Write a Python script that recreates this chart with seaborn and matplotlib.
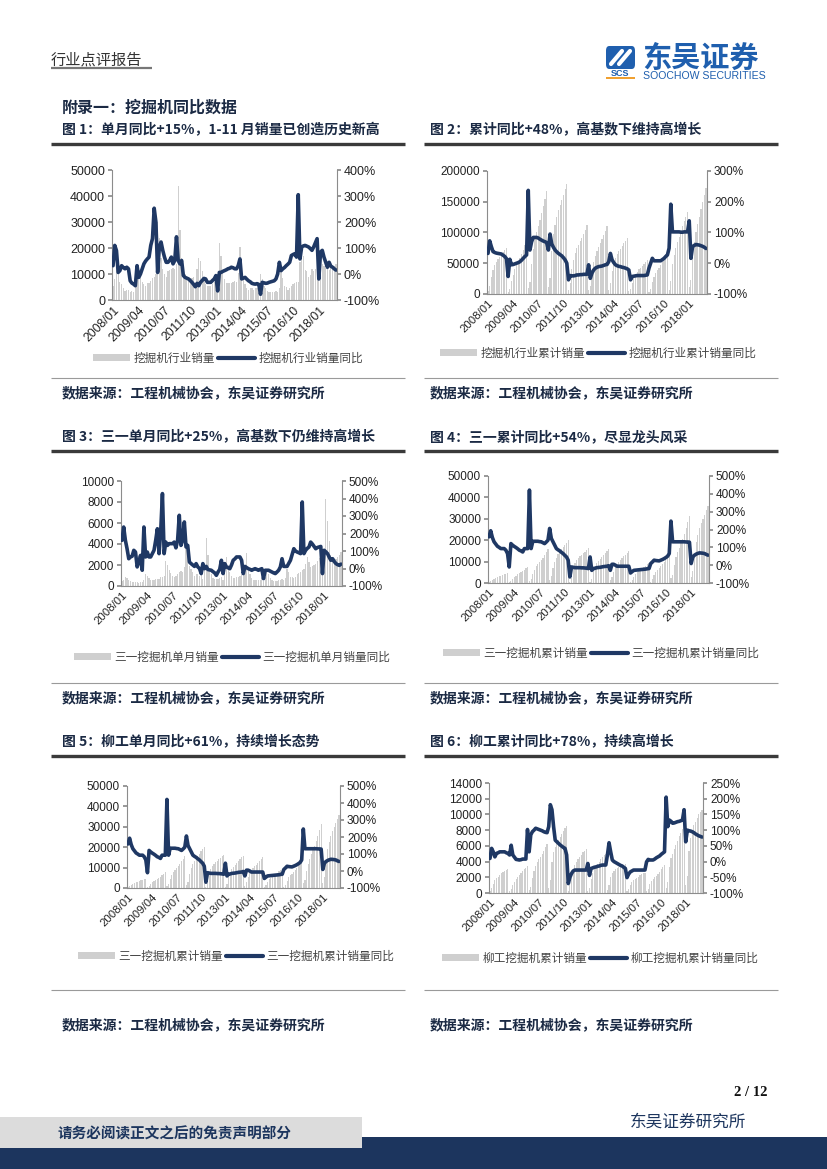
import numpy as np
import pandas as pd
import seaborn as sns
import matplotlib.pyplot as plt
from matplotlib.patches import Rectangle, Patch, FancyBboxPatch
from matplotlib.lines import Line2D

W, H = 827, 1169
NAVY = "#1f3864"
BAR = "#cfcfcf"
CJK = ["Noto Sans CJK SC", "DejaVu Sans"]

# monthly axis 2008/01 - 2018/11 (131 months), labelled every 15 months
tick_pos = [0, 15, 30, 45, 60, 75, 90, 105, 120]
tick_labels = ["2008/01", "2009/04", "2010/07", "2011/10", "2013/01",
               "2014/04", "2015/07", "2016/10", "2018/01"]

# ---- Fig 1: industry monthly sales (thousand units) and yoy (%) ----
ind_month_k = [
    5.5, 8, 14, 12, 7, 6, 4.5, 3.5, 4, 3.8, 3, 3.5,
    3, 5.5, 12, 11, 8.5, 7, 6, 5.5, 6.5, 6.5, 7.5, 8.5,
    9, 10, 30, 24, 16, 12, 10, 9, 11, 11.5, 12, 12.5,
    12, 14, 44, 27, 16, 13, 10, 8, 9, 8.5, 8.5, 9,
    6, 12, 16, 15, 11, 8, 6, 5.5, 5.5, 5.5, 6, 7,
    6, 6.5, 22, 17, 10.5, 8, 6.5, 6.5, 6.5, 6.5, 7, 7.5,
    7, 10.5, 20.5, 13, 8, 6, 4.5, 4, 4.5, 4.5, 4, 4.5,
    4.5, 4, 10, 8, 5.5, 4.5, 3.5, 3, 3, 3, 3, 3.5,
    3, 4.5, 12, 8.5, 5.5, 5, 4, 4.5, 5.5, 6, 6.5, 7,
    7, 14.5, 20, 17, 11.5, 11, 9, 9.5, 12, 11, 12, 13,
    11, 11.5, 14, 13, 12.5, 12, 11.5, 12.5, 13.5, 13, 14,
]
ind_month_yoy = [
    32, 110, 90, 6, 13, 32, 25, 20, 26, 20, -26, -35,
    -39, -45, 32, -13, 0, 20, 39, 50, 58, 65, 110, 136,
    253, 200, 6, 104, 123, 91, 65, 45, 45, 52, 65, 39,
    52, 143, 52, 39, 52, -6, -13, -16, -19, -25, -32, -40,
    -49, -36, -45, -32, -25, -17, -19, -32, -32, -32, -25, -19,
    -6, -65, 6, 6, 10, 13, 16, 20, 22, 26, 24, 20,
    20, 32, 58, -19, -16, -13, -20, -26, -30, -36, -38, -39,
    -37, -40, -78, -32, -34, -36, -35, -32, -30, -28, -26, -19,
    0, 45, 13, 20, 25, 32, 38, 45, 71, 75, 78, 65,
    305, 58, 104, 108, 110, 107, 104, 98, 91, 104, 120, 136,
    -19, 84, 91, 65, 45, 26, 45, 30, 26, 20, 15,
]

# ---- Fig 2: industry cumulative sales (thousand units) and yoy (%) ----
ind_cum_k = [
    5.5, 13.5, 27.5, 39.5, 46.5, 52.5, 57, 60.5, 64.5, 68.3, 71.3, 74.8,
    3, 8.5, 20.5, 31.5, 40, 47, 53, 58.5, 65, 71.5, 79, 87.5,
    9, 19, 49, 73, 89, 101, 111, 120, 131, 142.5, 154.5, 167,
    12, 26, 70, 97, 113, 126, 136, 144, 153, 161.5, 170, 179,
    6, 18, 40, 55, 66, 74, 80, 85.5, 91, 97, 104, 113,
    6, 12.5, 34.5, 51.5, 62, 70, 76.5, 83, 89.5, 96, 103, 110.5,
    7, 17.5, 38, 51, 59, 65, 69.5, 73.5, 78, 82.5, 86.5, 91,
    4.5, 8.5, 18.5, 26.5, 32, 36.5, 40, 43, 46, 49, 52, 55.5,
    3, 7.5, 19.5, 28, 33.5, 38.5, 42.5, 47, 52.5, 58.5, 65, 71,
    7, 21, 48, 64, 75, 85, 93, 101, 110, 118, 126, 134,
    11, 22.5, 63, 84, 100, 114, 126, 138, 150, 161, 173,
]
ind_cum_yoy = [
    32, 73, 54, 38, 35, 33, 32, 31, 30, 26, 22, 15,
    -43, 13, -5, -4, -2, 0, 2, 5, 10, 16, 22, 27,
    237, 43, 70, 84, 84, 84, 82, 78, 75, 72, 70, 67,
    43, 95, 63, 52, 43, 37, 32, 28, 24, 18, 11, 0,
    -54, -40, -41, -41, -40, -38, -38, -37, -37, -36, -36, -36,
    -5, -49, -32, -22, -16, -13, -11, -10, -9, -7, -5, -4,
    5, 32, 11, 2, -5, -8, -10, -11, -13, -14, -16, -18,
    -22, -54, -43, -42, -41, -40, -40, -40, -40, -40, -39, -38,
    -16, 0, 16, 8, 8, 8, 8, 8, 12, 16, 22, 27,
    49, 192, 102, 102, 102, 102, 102, 101, 101, 102, 102, 102,
    138, 16, 54, 58, 61, 60, 59, 57, 55, 52, 48,
]

# ---- Fig 3: Sany monthly sales (thousand units) and yoy (%) ----
sany_month_k = [
    0.5, 0.6, 0.9, 0.8, 0.6, 0.5, 0.4, 0.35, 0.4, 0.35, 0.3, 0.4,
    0.35, 0.6, 1.1, 1.0, 0.8, 0.6, 0.55, 0.6, 0.65, 0.7, 0.7, 0.9,
    0.9, 1.0, 2.4, 2.0, 1.5, 1.2, 1.0, 0.9, 1.0, 1.1, 1.3, 1.4,
    1.3, 1.8, 4.0, 2.8, 1.9, 1.6, 1.3, 1.0, 1.1, 1.1, 1.0, 1.1,
    0.7, 1.6, 4.6, 3.0, 1.5, 1.1, 0.8, 0.7, 0.7, 0.7, 0.8, 0.9,
    0.6, 1.5, 2.8, 2.0, 1.3, 1.0, 0.8, 0.8, 0.9, 0.9, 1.0, 1.1,
    1.2, 1.8, 3.1, 1.7, 1.1, 0.8, 0.6, 0.6, 0.6, 0.6, 0.6, 0.8,
    0.5, 0.8, 1.3, 1.1, 0.8, 0.6, 0.5, 0.45, 0.5, 0.55, 0.6, 0.7,
    0.6, 0.8, 1.6, 1.3, 0.9, 0.9, 0.8, 0.9, 1.1, 1.2, 1.3, 1.5,
    1.6, 2.1, 2.8, 2.3, 1.8, 1.9, 2.0, 2.1, 2.4, 2.7, 2.9, 3.3,
    2.6, 8.3, 6.2, 4.3, 3.0, 2.6, 2.4, 2.6, 2.8, 3.0, 3.2,
]
sany_month_yoy = [
    161, 237, 161, 113, 56, 66, 70, 104, 94, 9, 37, 75,
    -10, 237, 66, 94, 66, 66, 85, 104, 161, 227, 85, 218,
    428, 85, 151, 132, 142, 142, 142, 151, 118, 161, 304, 132,
    161, 266, 123, 132, 37, 28, 20, 12, 28, 9, 0, -29,
    28, -1, 12, -6, -8, -10, -18, -25, -39, -20, -5, 47,
    -29, 28, 9, 4, -1, 20, 47, 55, 66, 66, 66, 47,
    -29, 12, 5, -1, -5, -10, -5, -1, -5, -10, -5, -1,
    -58, -10, -10, -10, -15, -20, -25, -29, -20, -10, 9, 56,
    12, 12, 12, 30, 47, 80, 113, 100, 94, 90, 85, 380,
    85, 104, 115, 123, 151, 140, 126, 113, 120, 123, 126, -29,
    104, 95, 85, 65, 47, 56, 40, 28, 22, 18, 25,
]

# ---- Fig 4 / Fig 5: Sany cumulative sales (thousand units) and yoy (%) ----
sany_cum_k = [
    0.35, 0.75, 1.4, 2.0, 2.45, 2.85, 3.15, 3.45, 3.75, 4.0, 4.25, 4.5,
    0.3, 0.8, 1.8, 2.7, 3.4, 4.0, 4.5, 5.0, 5.6, 6.2, 6.8, 7.6,
    0.9, 1.9, 4.3, 6.3, 7.8, 9.0, 10.0, 10.9, 11.9, 13.0, 14.3, 15.7,
    1.3, 3.1, 7.1, 9.9, 11.8, 13.4, 14.7, 15.7, 16.8, 17.9, 18.9, 20.2,
    0.7, 2.3, 6.9, 9.2, 10.7, 11.8, 12.6, 13.3, 14.0, 14.7, 15.5, 16.4,
    0.6, 2.1, 5.6, 7.8, 9.3, 10.4, 11.3, 12.2, 13.2, 14.2, 15.0, 15.9,
    1.2, 3.0, 5.3, 7.3, 8.7, 9.8, 10.6, 11.5, 12.4, 13.3, 14.1, 15.0,
    0.6, 1.6, 3.0, 4.2, 5.0, 5.7, 6.3, 6.9, 7.5, 8.1, 8.8, 9.5,
    0.7, 1.7, 3.6, 5.2, 6.2, 7.1, 8.0, 8.9, 10.0, 11.2, 12.5, 14.0,
    2.4, 3.9, 8.5, 12.0, 14.3, 16.5, 18.5, 20.5, 23.0, 25.5, 28.5, 31.5,
    2.6, 5.5, 13.3, 19.0, 22.5, 25.5, 28.0, 30.0, 32.0, 34.0, 36.0,
]
sany_cum_yoy = [
    159, 193, 155, 131, 118, 106, 100, 93, 93, 93, 84, 65,
    -10, 121, 112, 105, 99, 92, 84, 80, 74, 93, 93, 93,
    421, 93, 134, 134, 134, 134, 132, 131, 126, 121, 130, 140,
    206, 150, 131, 112, 93, 86, 80, 72, 65, 55, 46, 28,
    -66, -10, -12, -14, -14, -14, -14, -15, -15, -16, -17, -19,
    46, -29, -19, -17, -14, -13, -12, -10, -8, -7, -6, -3,
    -29, 5, 5, 0, -6, -6, -6, -6, -6, -6, -6, -6,
    -44, -36, -29, -28, -27, -26, -25, -24, -23, -22, -20, -19,
    9, 18, 28, 26, 25, 24, 28, 32, 37, 43, 50, 65,
    247, 131, 131, 131, 131, 131, 131, 131, 131, 130, 130, 129,
    9, 46, 56, 62, 66, 69, 68, 67, 65, 60, 56,
]

# ---- Fig 6: Liugong cumulative sales (thousand units) and yoy (%) ----
liugong_cum_k = [
    0.3, 0.7, 1.2, 1.6, 1.9, 2.1, 2.3, 2.5, 2.65, 2.8, 2.95, 3.1,
    0.2, 0.5, 1.0, 1.4, 1.75, 2.0, 2.25, 2.5, 2.75, 3.0, 3.2, 3.5,
    0.4, 0.8, 1.9, 2.8, 3.4, 3.9, 4.3, 4.6, 5.0, 5.4, 5.8, 6.3,
    0.6, 1.6, 3.9, 5.2, 5.9, 6.4, 6.8, 7.1, 7.5, 7.9, 8.3, 8.5,
    0.3, 1.0, 2.2, 3.0, 3.6, 4.0, 4.3, 4.6, 4.9, 5.2, 5.4, 5.6,
    0.3, 0.7, 1.8, 2.5, 3.0, 3.4, 3.7, 4.0, 4.3, 4.6, 4.8, 5.0,
    0.4, 1.0, 2.0, 2.5, 2.8, 3.0, 3.15, 3.3, 3.4, 3.5, 3.6, 3.7,
    0.2, 0.5, 1.0, 1.35, 1.6, 1.8, 1.95, 2.1, 2.25, 2.4, 2.5, 2.6,
    0.2, 0.5, 1.1, 1.5, 1.8, 2.0, 2.2, 2.4, 2.7, 3.0, 3.3, 3.6,
    0.6, 1.4, 3.3, 4.4, 5.0, 5.6, 6.1, 6.6, 7.2, 7.7, 8.2, 8.8,
    1.0, 2.2, 5.3, 7.0, 7.9, 8.6, 9.1, 9.6, 10.0, 10.3, 10.6,
]
liugong_cum_yoy = [
    10, 42, 31, 15, 26, 28, 31, 31, 31, 31, 28, 26,
    21, 52, 21, 14, 7, 6, 5, 6, 8, 8, 8, 102,
    31, 85, 95, 100, 106, 104, 102, 100, 98, 95, 93, 92,
    111, 181, 165, 111, 68, 63, 58, 53, 49, 45, 42, 21,
    -70, -50, -38, -30, -27, -27, -27, -27, -27, -27, -27, -27,
    -6, -44, -22, -20, -18, -17, -15, -14, -12, -11, -11, -11,
    21, 60, 31, 5, 0, -3, -6, -9, -12, -14, -18, -22,
    -51, -40, -33, -30, -27, -27, -27, -27, -27, -27, -27, -27,
    -1, 7, 5, 5, 5, 8, 12, 15, 18, 23, 27, 31,
    205, 111, 132, 128, 122, 123, 125, 127, 128, 130, 132, 165,
    63, 100, 98, 97, 95, 92, 88, 85, 82, 80, 78,
]


def fx(x):
    return x / W


def fy(y):
    return 1 - y / H


def hline(fig, x0, x1, y, lw, color):
    fig.add_artist(Line2D([fx(x0), fx(x1)], [fy(y), fy(y)], transform=fig.transFigure,
                          lw=lw, color=color, solid_capstyle="butt"))


def text(fig, x, y, s, size, **kw):
    kw.setdefault("family", CJK)
    kw.setdefault("va", "center")
    fig.text(fx(x), fy(y), s, fontsize=size, **kw)


def dual_chart(fig, box, bars_k, yoy, lmax, lstep, rmin, rmax, rstep, names, leg_xy, fs=8.5):
    l, t, r, b = box
    ax = fig.add_axes([fx(l), fy(b), (r - l) / W, (b - t) / H])
    df = pd.DataFrame({"m": np.arange(len(bars_k)),
                       "sales": np.array(bars_k) * 1000,
                       "yoy": yoy})
    sns.barplot(data=df, x="m", y="sales", native_scale=True, color=BAR,
                saturation=1, width=0.7, errorbar=None, ax=ax,
                edgecolor="none", linewidth=0)
    ax2 = ax.twinx()
    sns.lineplot(data=df, x="m", y="yoy", color=NAVY, linewidth=2.6, ax=ax2,
                 solid_joinstyle="round")

    ax.set_xlim(-0.6, len(bars_k) - 0.4)
    ax.set_ylim(0, lmax)
    ax.set_yticks(np.arange(0, lmax + 1, lstep))
    ax.set_yticklabels([f"{int(v)}" for v in np.arange(0, lmax + 1, lstep)])
    ax.set_xticks(tick_pos)
    ax.set_xticklabels(tick_labels, rotation=45, ha="right", rotation_mode="anchor")
    ax2.set_ylim(rmin, rmax)
    rt = np.arange(rmin, rmax + 1, rstep)
    ax2.set_yticks(rt)
    ax2.set_yticklabels([f"{v}%" for v in rt])
    for a in (ax, ax2):
        a.set_xlabel("")
        a.set_ylabel("")
        for sp in a.spines.values():
            sp.set_color("#8c8c8c")
            sp.set_linewidth(0.8)
        a.spines["top"].set_visible(False)
    ax.spines["right"].set_visible(False)
    ax2.spines["left"].set_visible(False)
    ax2.spines["bottom"].set_visible(False)
    ax.tick_params(axis="y", length=3, color="#8c8c8c", labelsize=fs, pad=2, labelcolor="#222222")
    ax.tick_params(axis="x", length=0, labelsize=fs - 0.3, pad=3, labelcolor="#222222")
    ax2.tick_params(axis="y", length=3, color="#8c8c8c", labelsize=fs, pad=2, labelcolor="#222222")

    handles = [Patch(facecolor=BAR, edgecolor="none"),
               Line2D([], [], color=NAVY, lw=3)]
    ax2.legend(handles, names, loc="center", ncol=2, frameon=False,
               bbox_to_anchor=(fx(leg_xy[0]), fy(leg_xy[1])), bbox_transform=fig.transFigure,
               handlelength=3.2, handleheight=0.5, handletextpad=0.3, columnspacing=0.2,
               prop={"family": CJK, "size": 8.4}, labelcolor="#444444")
    return ax, ax2


def main():
    sns.set_theme(style="ticks")
    plt.rcParams["font.family"] = ["Liberation Sans", "Noto Sans CJK SC"]

    for arr in (ind_month_k, ind_month_yoy, ind_cum_k, ind_cum_yoy, sany_month_k, sany_month_yoy,
                sany_cum_k, sany_cum_yoy, liugong_cum_k, liugong_cum_yoy):
        assert len(arr) == 131, len(arr)

    fig = plt.figure(figsize=(W / 100, H / 100), dpi=100)
    fig.patch.set_facecolor("white")

    # ---- page header ----
    text(fig, 51, 60, "行业点评报告", 11, color="#333333")
    hline(fig, 51, 152, 68, 1.6, "#777777")

    # logo
    fig.add_artist(FancyBboxPatch((fx(606), fy(69)), fx(635) - fx(606), fy(46) - fy(69),
                                  boxstyle="round,pad=0,rounding_size=0.004",
                                  transform=fig.transFigure, facecolor="#1f5fae", edgecolor="none"))
    fig.add_artist(Line2D([fx(611), fx(622)], [fy(64), fy(51)], transform=fig.transFigure,
                          lw=3, color="white", solid_capstyle="round"))
    fig.add_artist(Line2D([fx(619), fx(630)], [fy(64), fy(51)], transform=fig.transFigure,
                          lw=3, color="white", solid_capstyle="round"))
    text(fig, 620.5, 73.5, "SCS", 6.5, family="Liberation Sans", weight="bold",
         color="#1f5fae", ha="center")
    fig.add_artist(Rectangle((fx(606), fy(79)), fx(635) - fx(606), fy(77) - fy(79),
                             transform=fig.transFigure, facecolor="#f0a030", edgecolor="none"))
    text(fig, 642, 58, "东吴证券", 21, weight="bold", color="#1f5fae")
    text(fig, 643, 76, "SOOCHOW SECURITIES", 7.6, family="Liberation Sans", color="#1f5fae")

    text(fig, 62, 108, "附录一：挖掘机同比数据", 11.5, weight="bold", color="#1b2a44")

    # ---- section titles, rules and source notes ----
    titles = [
        (130, "图 1：单月同比+15%，1-11 月销量已创造历史新高", "图 2：累计同比+48%，高基数下维持高增长"),
        (437, "图 3：三一单月同比+25%，高基数下仍维持高增长", "图 4：三一累计同比+54%，尽显龙头风采"),
        (742, "图 5：柳工单月同比+61%，持续增长态势", "图 6：柳工累计同比+78%，持续高增长"),
    ]
    for y, left, right in titles:
        text(fig, 62, y, left, 10, weight="bold", color="#1b2a44")
        text(fig, 430, y, right, 10, weight="bold", color="#1b2a44")
        hline(fig, 51, 405, y + 14, 2.4, "#3a3a3a")
        hline(fig, 424, 778, y + 14, 2.4, "#3a3a3a")

    src = "数据来源：工程机械协会，东吴证券研究所"
    for rule_y, src_y in ((378, 393), (683, 698), (990, 1025)):
        hline(fig, 51, 405, rule_y, 0.8, "#9a9a9a")
        hline(fig, 424, 778, rule_y, 0.8, "#9a9a9a")
        text(fig, 62, src_y, src, 10, weight="bold", color="#1b2a44")
        text(fig, 430, src_y, src, 10, weight="bold", color="#1b2a44")

    # ---- charts ----
    dual_chart(fig, (112, 170, 337, 300), ind_month_k, ind_month_yoy,
               50000, 10000, -100, 400, 100,
               ["挖掘机行业销量", "挖掘机行业销量同比"], (228, 358), fs=9)
    dual_chart(fig, (487, 171, 707, 294), ind_cum_k, ind_cum_yoy,
               200000, 50000, -100, 300, 100,
               ["挖掘机行业累计销量", "挖掘机行业累计销量同比"], (598, 353), fs=8.5)
    dual_chart(fig, (121, 481, 342, 586), sany_month_k, sany_month_yoy,
               10000, 2000, -100, 500, 100,
               ["三一挖掘机单月销量", "三一挖掘机单月销量同比"], (232, 657))
    dual_chart(fig, (488, 476, 709, 583), sany_cum_k, sany_cum_yoy,
               50000, 10000, -100, 500, 100,
               ["三一挖掘机累计销量", "三一挖掘机累计销量同比"], (601, 653))
    dual_chart(fig, (127, 786, 340, 888), sany_cum_k, sany_cum_yoy,
               50000, 10000, -100, 500, 100,
               ["三一挖掘机累计销量", "三一挖掘机累计销量同比"], (236, 956))
    dual_chart(fig, (489, 783, 703, 893), liugong_cum_k, liugong_cum_yoy,
               14000, 2000, -100, 250, 50,
               ["柳工挖掘机累计销量", "柳工挖掘机累计销量同比"], (600, 958))

    # ---- footer ----
    fig.add_artist(Rectangle((0, 0), 1, fy(1137), transform=fig.transFigure,
                             facecolor="#1c355e", edgecolor="none"))
    fig.add_artist(Rectangle((0, fy(1148)), fx(362), fy(1117) - fy(1148), transform=fig.transFigure,
                             facecolor="#dcdcdc", edgecolor="none"))
    text(fig, 58, 1133, "请务必阅读正文之后的免责声明部分", 10.5, weight="bold", color="#1c355e")
    text(fig, 768, 1093, "2 / 12", 10.5, family="Liberation Serif", weight="bold",
         color="#111111", ha="right")
    text(fig, 630, 1122, "东吴证券研究所", 12, color="#1c355e")

    fig.savefig("out.png", dpi=100)
    plt.close(fig)


if __name__ == "__main__":
    main()
